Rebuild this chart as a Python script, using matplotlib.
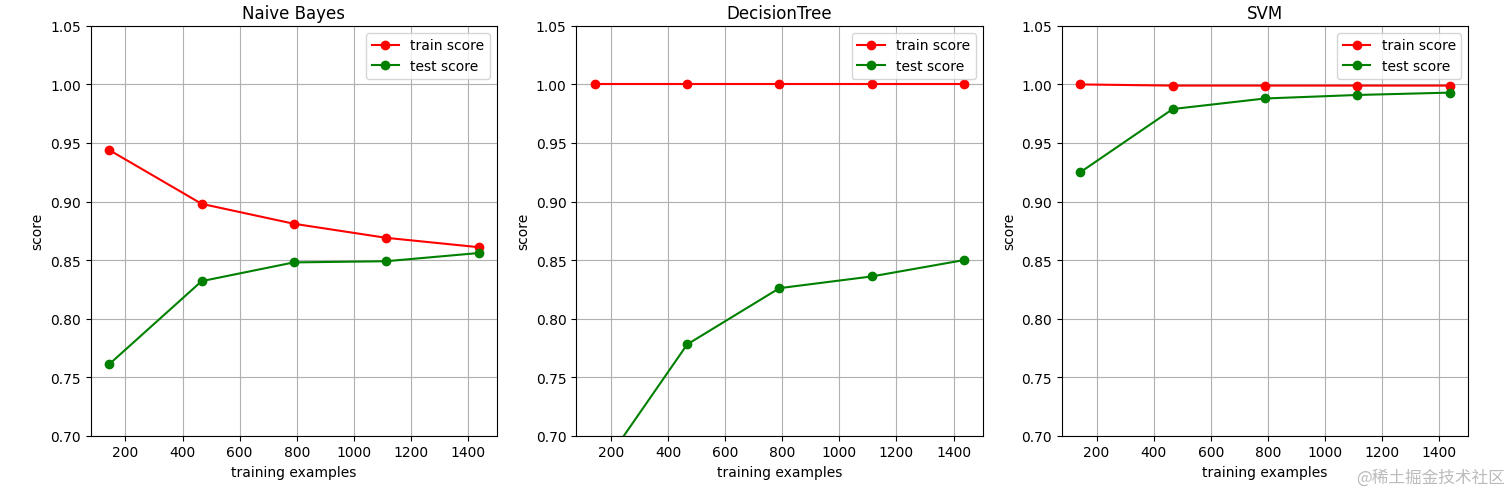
import matplotlib
matplotlib.use("Agg")
import matplotlib.pyplot as plt

sizes = [143, 467, 790, 1113, 1437]

titles = ["Naive Bayes", "DecisionTree", "SVM"]
train_scores = [
    [0.944, 0.898, 0.881, 0.869, 0.861],
    [1.0, 1.0, 1.0, 1.0, 1.0],
    [1.0, 0.999, 0.999, 0.999, 0.999],
]
test_scores = [
    [0.761, 0.832, 0.848, 0.849, 0.856],
    [0.664, 0.778, 0.826, 0.836, 0.850],
    [0.925, 0.979, 0.988, 0.991, 0.993],
]

fig, axes = plt.subplots(1, 3, figsize=(15.12, 4.89), dpi=100)
fig.subplots_adjust(left=0.06, right=0.971, top=0.945, bottom=0.107, wspace=0.195)

for ax, title, tr, te in zip(axes, titles, train_scores, test_scores):
    ax.plot(sizes, tr, "o-", color="r", label="train score")
    ax.plot(sizes, te, "o-", color="g", label="test score")
    ax.set_title(title)
    ax.set_xlabel("training examples")
    ax.set_ylabel("score")
    ax.set_ylim(0.7, 1.05)
    ax.grid(True)
    ax.legend(loc="upper right")

fig.text(0.995, 0.005, "@稀土掘金技术社区", ha="right", va="bottom", color="#bbbbbb",
         fontsize=12, family=["Noto Sans CJK SC", "DejaVu Sans"])

fig.savefig("out.png")
